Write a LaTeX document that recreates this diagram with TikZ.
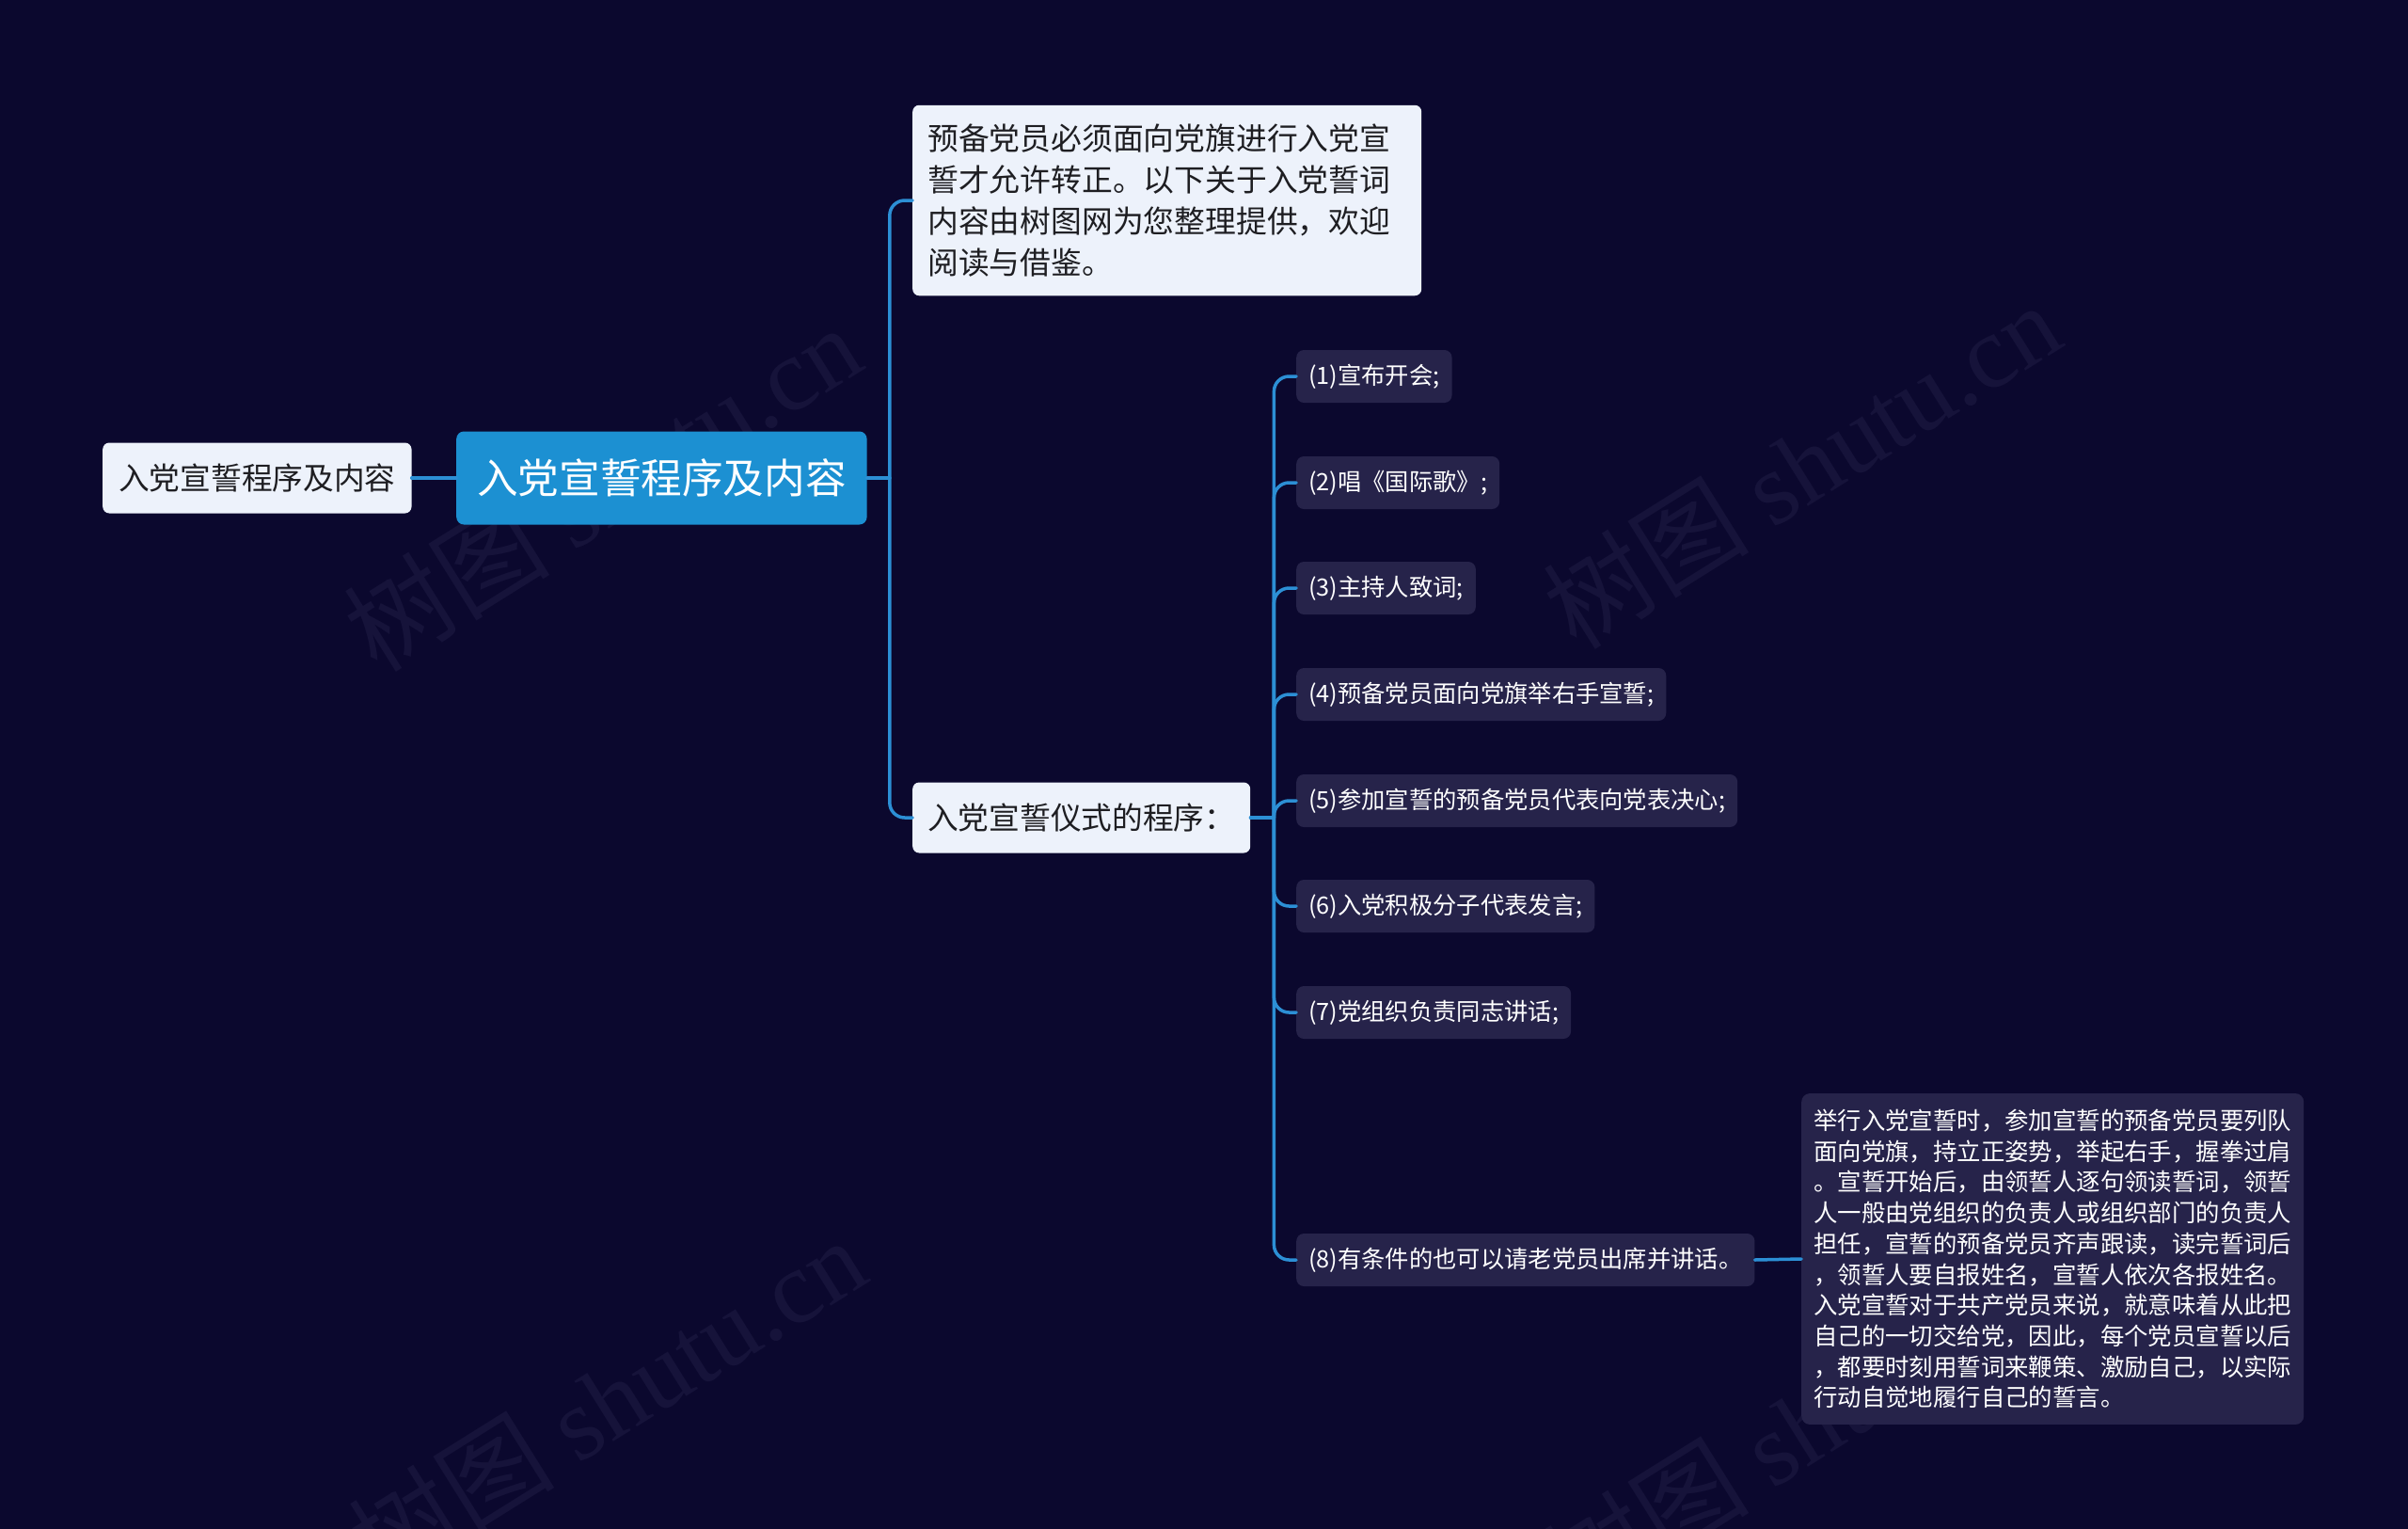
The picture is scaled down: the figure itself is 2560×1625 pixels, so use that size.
\documentclass[tikz,border=0pt]{standalone}
\usepackage{fontspec}
\setmainfont{Noto Sans CJK SC}
\newfontfamily\wmlatin{Liberation Serif}
\definecolor{bgc}{HTML}{0B082E}
\definecolor{rootc}{HTML}{1C90D2}
\definecolor{lightc}{HTML}{EDF2FB}
\definecolor{darkc}{HTML}{26234A}
\definecolor{linec}{HTML}{2C8FD5}
\definecolor{txtdark}{HTML}{1E1E22}
\definecolor{wmc}{HTML}{16133A}
\tikzset{
  lightbox/.style={draw=none, fill=lightc, rounded corners=7, text=txtdark, anchor=west},
  darkbox/.style={draw=none, fill=darkc, rounded corners=8, text=white, anchor=west,
    inner xsep=13, inner ysep=0, minimum height=56,
    font=\fontsize{25.3}{30}\selectfont},
  conn/.style={draw=linec, line width=3.5, line cap=round},
  wm/.style={text=wmc, rotate=32, font=\fontsize{110}{120}\selectfont}
}
\begin{document}
\begin{tikzpicture}[x=1pt,y=-1pt]
\fill[bgc] (0,0) rectangle (2560,1625);
\useasboundingbox (0,0) rectangle (2560,1625);
% watermarks
\node[wm] (w1) at (640,518) {树图 {\wmlatin shutu.cn}};
\node[wm] (w2) at (1915,494) {树图 {\wmlatin shutu.cn}};
\node[wm] (w3) at (645,1488) {树图 {\wmlatin shutu.cn}};
\node[wm] (w4) at (1915,1515) {树图 {\wmlatin shutu.cn}};
% nodes
\node[lightbox, inner xsep=17, inner ysep=0, minimum height=75,
  font=\fontsize{32.7}{40}\selectfont] (left) at (109,508) {入党宣誓程序及内容};
\node[draw=none, fill=rootc, rounded corners=8, text=white, anchor=west,
  inner xsep=22, inner ysep=0, minimum height=99,
  font=\fontsize{43.6}{50}\selectfont] (root) at (485,508) {入党宣誓程序及内容};
\node[lightbox, inner xsep=16, inner ysep=20, text width=509, align=left,
  font=\fontsize{32.8}{44}\selectfont] (nA) at (970,213)
  {预备党员必须面向党旗进行入党宣\\誓才允许转正。以下关于入党誓词\\内容由树图网为您整理提供，欢迎\\阅读与借鉴。};
\node[lightbox, inner xsep=16, inner ysep=0, minimum height=75, text width=327, align=left,
  font=\fontsize{32.7}{40}\selectfont] (nB) at (970,869) {入党宣誓仪式的程序：};
\node[darkbox] (c1) at (1378,400) {(1)宣布开会;};
\node[darkbox] (c2) at (1378,513) {(2)唱《国际歌》;};
\node[darkbox] (c3) at (1378,625) {(3)主持人致词;};
\node[darkbox] (c4) at (1378,738) {(4)预备党员面向党旗举右手宣誓;};
\node[darkbox] (c5) at (1378,851) {(5)参加宣誓的预备党员代表向党表决心;};
\node[darkbox] (c6) at (1378,963) {(6)入党积极分子代表发言;};
\node[darkbox] (c7) at (1378,1076) {(7)党组织负责同志讲话;};
\node[darkbox] (c8) at (1378,1339) {(8)有条件的也可以请老党员出席并讲话。};
\node[draw=none, fill=darkc, rounded corners=9, text=white, anchor=west,
  inner xsep=13, inner ysep=17, text width=508, align=left,
  font=\fontsize{25.4}{32.7}\selectfont] (det) at (1915,1338)
  {举行入党宣誓时，参加宣誓的预备党员要列队\\面向党旗，持立正姿势，举起右手，握拳过肩\\。宣誓开始后，由领誓人逐句领读誓词，领誓\\人一般由党组织的负责人或组织部门的负责人\\担任，宣誓的预备党员齐声跟读，读完誓词后\\，领誓人要自报姓名，宣誓人依次各报姓名。\\入党宣誓对于共产党员来说，就意味着从此把\\自己的一切交给党，因此，每个党员宣誓以后\\，都要时刻用誓词来鞭策、激励自己，以实际\\行动自觉地履行自己的誓言。};
% connectors
\draw[conn] (left.east) -- (root.west);
\coordinate (j1) at ([xshift=24]root.east);
\draw[conn] (root.east) -- (j1);
\draw[conn, rounded corners=16] (j1) |- (nA.west);
\draw[conn, rounded corners=16] (j1) |- (nB.west);
\coordinate (j2) at ([xshift=25]nB.east);
\draw[conn] (nB.east) -- (j2);
\foreach \c in {c1,c2,c3,c4,c5,c6,c7,c8}{
  \draw[conn, rounded corners=16] (j2) |- (\c.west);
}
\draw[conn] (c8.east) -- (det.west);
\end{tikzpicture}
\end{document}
